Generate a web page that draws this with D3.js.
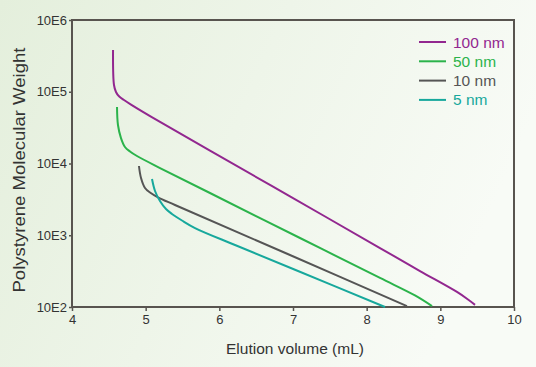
<!DOCTYPE html>
<html>
<head>
<meta charset="utf-8">
<script src="https://cdn.jsdelivr.net/npm/d3@7"></script>
<style>
  body { margin: 0; }
  svg { display: block; font-family: "Liberation Sans", Arial, sans-serif; }
</style>
</head>
<body>
<svg id="chart" width="536" height="367"></svg>
<script>
// values: elution volume (mL) vs polystyrene MW
var xTicks = [4, 5, 6, 7, 8, 9, 10]
var yTicks = [100, 1000, 10000, 100000, 1000000]
var yTickLabels = ["10E2", "10E3", "10E4", "10E5", "10E6"]

var names = ["100 nm", "50 nm", "10 nm", "5 nm"]
var colors = ["#92278f", "#2bb34b", "#555555", "#17a89c"]

var vol100 = [4.557, 4.570, 4.597, 4.638, 4.706, 4.801, 5.195, 5.873, 6.959, 8.181, 8.724, 9.226, 9.376, 9.471]
var mw100 = [381900, 124200, 99200, 86400, 76700, 66200, 37900, 15100, 3480, 664, 317, 162, 127, 107]
var vol50 = [4.611, 4.624, 4.665, 4.719, 4.787, 4.882, 5.195, 5.873, 7.095, 8.181, 8.656, 8.887]
var mw50 = [61200, 34400, 22600, 17000, 14700, 12720, 8650, 3880, 915, 254, 145, 103]
var vol10 = [4.909, 4.937, 4.991, 5.059, 5.167, 5.398, 6.959, 8.547]
var mw10 = [9230, 6280, 4560, 3940, 3380, 2640, 530, 103]
var vol5 = [5.086, 5.127, 5.194, 5.276, 5.357, 5.493, 5.670, 6.213, 7.027, 8.249]
var mw5 = [6080, 4140, 3000, 2320, 1980, 1605, 1260, 731, 330, 100]

var seriesVol = [vol100, vol50, vol10, vol5]
var seriesMw = [mw100, mw50, mw10, mw5]

var svg = d3.select("#chart")
var width = 536, height = 367
var margin = {left: 72, right: 22, top: 20, bottom: 60}

var defs = svg.append("defs")
var grad = defs.append("linearGradient").attr("id", "bg").attr("x1", 0).attr("y1", 0).attr("x2", 1).attr("y2", 0.3)
grad.append("stop").attr("offset", "0%").attr("stop-color", "#e4efdc")
grad.append("stop").attr("offset", "100%").attr("stop-color", "#f8fbf6")
svg.append("rect").attr("width", width).attr("height", height).attr("fill", "url(#bg)")

var x = d3.scaleLinear().domain([4, 10]).range([margin.left, width - margin.right])
var y = d3.scaleLog().domain([100, 1000000]).range([height - margin.bottom, margin.top])

var axisColor = "#58544f"

// frame
svg.append("rect")
  .attr("x", x(4)).attr("y", y(1000000))
  .attr("width", x(10) - x(4)).attr("height", y(100) - y(1000000))
  .attr("fill", "none").attr("stroke", axisColor).attr("stroke-width", 2)

var xAxis = svg.append("g").attr("transform", "translate(0," + y(100) + ")")
  .call(d3.axisBottom(x).tickValues(xTicks).tickSize(4).tickPadding(4).tickFormat(d3.format("d")))
xAxis.select(".domain").remove()
xAxis.selectAll("line").attr("stroke", axisColor).attr("stroke-width", 1.5)
xAxis.selectAll("text").attr("fill", "#333").style("font-size", "13px")

var yAxis = svg.append("g").attr("transform", "translate(" + x(4) + ",0)")
  .call(d3.axisLeft(y).tickValues(yTicks).tickSize(3).tickPadding(2)
    .tickFormat(function(d, i) { return yTickLabels[i] }))
yAxis.select(".domain").remove()
yAxis.selectAll("line").attr("stroke", axisColor).attr("stroke-width", 1.5)
yAxis.selectAll("text").attr("fill", "#333").style("font-size", "13px")

svg.append("text")
  .attr("x", (x(4) + x(10)) / 2 + 2).attr("y", 354)
  .attr("text-anchor", "middle").attr("fill", "#333").style("font-size", "15.5px")
  .attr("textLength", 138).attr("lengthAdjust", "spacingAndGlyphs")
  .text("Elution volume (mL)")

svg.append("text")
  .attr("transform", "translate(25,170) rotate(-90)")
  .attr("text-anchor", "middle").attr("fill", "#333").style("font-size", "16.5px")
  .attr("textLength", 245).attr("lengthAdjust", "spacingAndGlyphs")
  .text("Polystyrene Molecular Weight")

var line = d3.line()
  .x(function(d) { return x(d[0]) })
  .y(function(d) { return y(d[1]) })
  .curve(d3.curveCatmullRom.alpha(0.5))

seriesVol.forEach(function(vols, i) {
  var pts = vols.map(function(v, j) { return [v, seriesMw[i][j]] })
  svg.append("path").datum(pts)
    .attr("d", line)
    .attr("fill", "none")
    .attr("stroke", colors[i])
    .attr("stroke-width", 2)
})

// legend
var legend = svg.append("g").attr("transform", "translate(419,42)")
names.forEach(function(n, i) {
  var row = legend.append("g").attr("transform", "translate(0," + (i * 19.3) + ")")
  row.append("line").attr("x1", 0).attr("x2", 27).attr("y1", 0).attr("y2", 0)
    .attr("stroke", colors[i]).attr("stroke-width", 2)
  row.append("text").attr("x", 34).attr("y", 5.5)
    .attr("fill", colors[i]).style("font-size", "15.5px")
    .text(n)
})
</script>
</body>
</html>
